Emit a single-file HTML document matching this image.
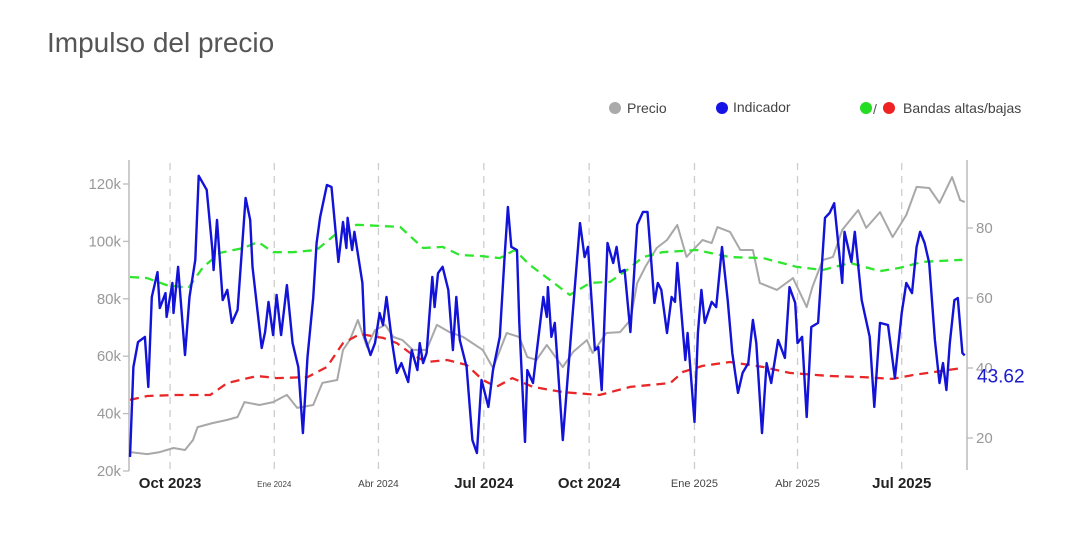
<!DOCTYPE html>
<html><head><meta charset="utf-8">
<style>
body{margin:0;background:#fff;width:1077px;height:545px;overflow:hidden;font-family:"Liberation Sans",sans-serif;}
svg{position:absolute;left:0;top:0;}
</style></head>
<body>
<svg id="chart" width="1077" height="545" xmlns="http://www.w3.org/2000/svg">
<text x="47" y="52" font-size="28" fill="#555" font-family="Liberation Sans, sans-serif">Impulso del precio</text>
<g font-size="14" fill="#444">
 <g><circle cx="615" cy="108" r="6" fill="#aaa"/><text x="627" y="113">Precio</text></g>
 <g><circle cx="722" cy="108" r="6" fill="#1414e6"/><text x="733" y="112">Indicador</text></g>
 <g><circle cx="866" cy="108" r="6" fill="#22dd22"/><text x="873" y="114" fill="#555">/</text><circle cx="889" cy="108" r="6" fill="#ee2222"/><text x="903" y="113">Bandas altas/bajas</text></g>
</g>
<g id="grid"></g>
<g id="axes"></g>
<g id="series"></g>
</svg>
<script>
// data: day offsets since 2023-08-27 and values
const xTickLabels = ["Oct 2023","Ene 2024","Abr 2024","Jul 2024","Oct 2024","Ene 2025","Abr 2025","Jul 2025"];
const xTickDays = [35,126,217,309,401,493,583,674];
const leftTicks = [20,40,60,80,100,120];
const rightTicks = [20,40,60,80];
const priceDays = [0,15,26,38,48,55,59,72,85,94,100,113,125,137,146,160,168,181,186,192,199,207,214,223,230,238,247,259,268,279,291,308,317,329,340,347,355,364,378,387,399,404,416,428,437,443,450,460,469,478,486,500,508,513,524,533,544,550,565,579,591,596,605,614,622,636,643,655,666,678,687,698,707,718,725,729];
const priceK = [26.6,25.9,26.6,28.0,27.3,30.8,35.3,36.7,37.8,38.8,44.0,43.0,44.0,46.5,42.0,43.0,50.7,51.7,62.2,65.6,72.6,63.2,69.1,70.9,66.7,65.6,62.2,62.2,70.9,68.4,66.7,62.2,55.9,68.1,66.7,59.7,58.7,63.9,56.2,61.5,65.6,61.1,68.1,68.4,72.6,85.5,91.1,97.7,100.5,105.7,94.6,100.5,99.4,105.0,103.3,97.0,97.0,85.5,83.1,87.2,77.1,84.1,93.5,94.6,104.0,110.9,104.7,110.2,101.5,109.2,119.0,118.6,113.4,122.4,114.4,113.7];
const indDays = [0,3,7,13,16,19,24,26,31,32,37,38,42,48,52,57,60,67,72,73,76,81,85,89,94,101,105,107,115,118,121,125,128,132,137,142,147,151,155,160,163,166,172,176,182,186,189,190,194,196,203,205,210,214,218,221,224,229,233,237,243,246,251,253,256,259,264,266,269,273,278,282,285,288,294,299,303,307,313,317,323,327,330,333,338,340,345,347,352,361,364,365,368,371,378,386,393,397,400,406,409,412,417,422,425,428,432,437,443,448,452,458,461,464,469,473,476,478,485,487,493,496,499,502,508,512,517,522,526,531,535,540,544,547,552,556,560,566,572,576,581,583,587,591,595,601,607,611,615,622,624,630,633,639,646,650,655,662,668,674,678,683,687,690,694,698,703,707,710,713,716,720,723,727,729];
const indVals = [14.6,40.3,47.4,48.9,34.6,60.3,67.4,57.1,61.4,54.6,64.3,55.7,68.9,43.7,60.3,70.9,94.9,90.9,73.7,68.0,82.3,59.4,62.3,52.9,56.6,88.6,82.3,68.9,45.7,50.3,58.9,49.4,60.9,49.4,63.7,47.1,40.3,21.4,43.1,60.0,75.7,83.1,92.3,91.7,70.3,81.7,74.3,82.9,73.7,78.9,64.3,48.9,43.7,47.1,55.7,52.3,60.3,47.1,38.6,41.4,36.0,45.1,39.4,47.1,41.4,44.3,66.0,57.4,67.1,68.9,62.3,45.1,60.3,48.0,40.3,19.4,15.7,36.6,28.9,39.4,48.9,70.9,86.0,74.6,73.7,52.9,18.9,39.4,35.7,60.3,54.6,63.1,48.9,52.9,19.4,53.1,81.4,71.7,74.6,45.1,46.0,33.7,75.7,70.0,74.6,67.4,68.0,50.3,80.9,84.6,84.6,58.6,64.3,62.3,50.0,60.3,58.9,70.0,42.3,50.0,24.6,50.0,62.3,52.9,58.9,57.4,74.6,59.4,44.3,32.9,38.6,41.4,53.7,47.1,21.4,41.4,35.7,48.0,42.9,63.1,58.6,47.1,48.9,26.0,51.7,52.9,82.9,84.3,87.1,64.3,78.9,70.3,78.9,59.4,48.9,28.9,52.9,52.3,37.1,55.7,64.3,61.4,74.6,78.9,75.7,70.0,48.0,35.7,41.4,33.7,47.1,59.4,60.0,44.3,43.6];
const upperDays = [0,15,32,51,64,79,99,112,125,142,163,181,198,218,236,256,273,288,306,323,336,349,367,384,402,419,434,448,465,495,524,553,582,605,629,655,672,692,727];
const upperVals = [66.0,65.7,63.7,62.9,68.9,72.9,74.3,76.0,73.1,73.1,73.7,78.6,80.9,80.6,80.3,74.3,74.6,72.3,72.0,71.4,73.7,69.5,65.1,60.9,64.3,64.6,68.0,71.7,73.1,73.7,71.7,71.4,68.9,68.0,70.0,67.7,68.6,70.3,70.9];
const lowerDays = [0,15,41,70,85,111,128,155,172,186,201,221,233,247,259,277,294,308,320,334,352,378,410,437,472,483,500,524,553,576,611,640,666,684,727];
const lowerVals = [30.9,32.0,32.3,32.3,35.7,37.7,37.1,37.4,40.3,47.1,49.7,48.6,47.1,43.7,41.7,42.3,40.9,36.6,34.6,37.1,34.6,33.1,32.3,34.6,35.7,38.9,40.6,41.7,40.3,38.6,37.7,37.4,36.9,38.0,40.0];
const lastLabel = "43.62";

const X0=130, PXD=1.145;
const xs = d => X0 + d*PXD;
const yL = v => 184 + (120-v)*2.87;
const yR = v => 228 + (80-v)*3.5;
const NS="http://www.w3.org/2000/svg";
function mk(tag, parent, attrs){const e=document.createElementNS(NS,tag);for(const k in attrs)e.setAttribute(k,attrs[k]);parent.appendChild(e);return e;}
const grid=document.getElementById('grid'), axes=document.getElementById('axes'), series=document.getElementById('series');

xTickDays.forEach((d,i)=>{
  const x=xs(d);
  const g=mk('line',grid,{x1:x,x2:x,y1:163,y2:470,stroke:'#ccc','stroke-width':1.3,'stroke-dasharray':'7,6'});
  
  
  const isBold = (xTickLabels[i].startsWith('Oct')||xTickLabels[i].startsWith('Jul'));
  const t=mk('text',axes,{x:x,y:isBold?488:487,'text-anchor':'middle','font-size':isBold?15:(i===1?8:(i===2?10:11)),fill:isBold?'#222':'#444','font-weight':isBold?'bold':'normal'});
  t.textContent=xTickLabels[i];
  
  
});
const la=mk('line',axes,{x1:129,x2:129,y1:160,y2:471,stroke:'#bbb','stroke-width':1.5});


const ra=mk('line',axes,{x1:967,x2:967,y1:160,y2:470,stroke:'#bbb','stroke-width':1.5});


leftTicks.forEach(v=>{
  const y=yL(v);
  mk('line',axes,{x1:123,x2:129,y1:y,y2:y,stroke:'#bbb','stroke-width':1.3});
  const t=mk('text',axes,{x:121,y:y+5,'text-anchor':'end','font-size':15,fill:'#999'});
  t.textContent=v+'k';
  
  
});
rightTicks.forEach(v=>{
  const y=yR(v);
  mk('line',axes,{x1:967,x2:973,y1:y,y2:y,stroke:'#bbb','stroke-width':1.3});
  const t=mk('text',axes,{x:976,y:y+5,'font-size':15,fill:'#999'});
  t.textContent=v;
  
  
});
function path(days,vals,yf){return days.map((d,i)=>(i?'L':'M')+xs(d).toFixed(1)+','+yf(vals[i]).toFixed(1)).join('');}
const pp=mk('path',series,{d:path(priceDays,priceK,yL),fill:'none',stroke:'#a8a8a8','stroke-width':2,'stroke-linejoin':'round'});


const up=mk('path',series,{d:path(upperDays,upperVals,yR),fill:'none',stroke:'#2ee62e','stroke-width':2.3,'stroke-dasharray':'9,6'});


const lp=mk('path',series,{d:path(lowerDays,lowerVals,yR),fill:'none',stroke:'#e82828','stroke-width':2.3,'stroke-dasharray':'9,6'});


const ip=mk('path',series,{d:path(indDays,indVals,yR),fill:'none',stroke:'#1212d8','stroke-width':2.4,'stroke-linejoin':'round'});


const lt=mk('text',series,{x:977,y:yR(indVals[indVals.length-1])+27,'font-size':19,fill:'#1a1ad0'});
lt.textContent=lastLabel;


</script>
</body></html>
